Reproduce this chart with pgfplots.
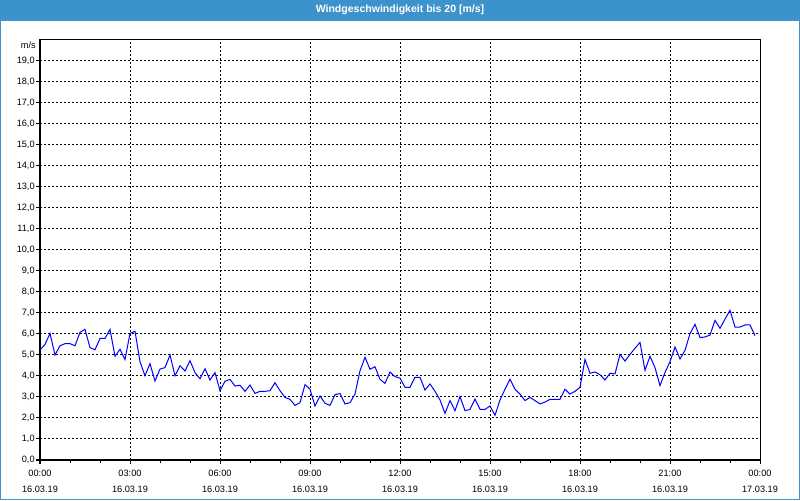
\documentclass[border=0pt]{standalone}
\usepackage{pgfplots}
\pgfplotsset{compat=1.18}
\usepackage{pgfplotstable}
\usepackage{fontspec}
\setmainfont{Liberation Sans}
\definecolor{barblue}{HTML}{3C92CA}
\definecolor{lineblue}{HTML}{0000FF}
\pgfplotstableread{
i v
0 5.24
1 5.50
2 6.03
3 5.00
4 5.44
5 5.54
6 5.54
7 5.44
8 6.08
9 6.22
10 5.35
11 5.25
12 5.79
13 5.79
14 6.22
15 4.94
16 5.27
17 4.78
18 6.03
19 6.13
20 4.68
21 4.01
22 4.59
23 3.76
24 4.33
25 4.40
26 5.00
27 4.01
28 4.49
29 4.24
30 4.73
31 4.16
32 3.87
33 4.35
34 3.81
35 4.16
36 3.30
37 3.75
38 3.84
39 3.52
40 3.56
41 3.27
42 3.57
43 3.17
44 3.27
45 3.27
46 3.30
47 3.68
48 3.30
49 2.98
50 2.89
51 2.60
52 2.73
53 3.59
54 3.37
55 2.57
56 3.05
57 2.70
58 2.60
59 3.11
60 3.17
61 2.67
62 2.73
63 3.14
64 4.25
65 4.89
66 4.32
67 4.44
68 3.84
69 3.65
70 4.19
71 3.97
72 3.90
73 3.46
74 3.46
75 3.94
76 3.94
77 3.33
78 3.62
79 3.27
80 2.86
81 2.22
82 2.83
83 2.35
84 3.02
85 2.35
86 2.41
87 2.90
88 2.41
89 2.41
90 2.57
91 2.13
92 2.86
93 3.37
94 3.84
95 3.37
96 3.14
97 2.83
98 2.98
99 2.83
100 2.67
101 2.76
102 2.89
103 2.89
104 2.89
105 3.37
106 3.14
107 3.27
108 3.46
109 4.79
110 4.13
111 4.19
112 4.06
113 3.81
114 4.13
115 4.10
116 5.03
117 4.71
118 5.03
119 5.32
120 5.60
121 4.27
122 4.94
123 4.40
124 3.54
125 4.17
126 4.68
127 5.38
128 4.81
129 5.22
130 6.02
131 6.46
132 5.83
133 5.86
134 5.95
135 6.65
136 6.27
137 6.71
138 7.13
139 6.33
140 6.33
141 6.43
142 6.43
143 5.92
}\wind

\begin{document}
\begin{tikzpicture}
\useasboundingbox (0,0) rectangle (600pt,375pt);
\fill[white] (0,0) rectangle (600pt,375pt);
\fill[barblue] (0,359.25pt) rectangle (600pt,375pt);
\draw[barblue, line width=0.75pt] (0.375pt,0.375pt) rectangle (599.625pt,374.625pt);
\node[white, font=\bfseries\fontsize{7.9}{9}\selectfont] at (300pt,367.5pt) {Windgeschwindigkeit bis 20 [m/s]};
\node[anchor=east, inner sep=0pt, font=\fontsize{6.9}{9}\selectfont] at (27pt,341.25pt) {m/s};
\begin{axis}[
  at={(30pt,30pt)}, anchor=south west,
  scale only axis, width=540pt, height=315pt,
  xmin=0, xmax=144, ymin=0, ymax=20,
  xtick={0,18,...,144},
  minor x tick num=2,
  ytick={0,1,...,19},
  xticklabels={{00:00\\16.03.19},{03:00\\16.03.19},{06:00\\16.03.19},{09:00\\16.03.19},{12:00\\16.03.19},{15:00\\16.03.19},{18:00\\16.03.19},{21:00\\16.03.19},{00:00\\17.03.19}},
  xticklabel style={align=center, anchor=north, inner sep=0pt, yshift=-4pt},
  yticklabel style={anchor=east, inner sep=0pt, xshift=-0.8pt,
    /pgf/number format/.cd, fixed, fixed zerofill, precision=1, use comma, assume math mode=true},
  ticklabel style={font=\fontsize{6.9}{12}\selectfont, text=black},
  tick align=outside,
  major tick length=3pt, minor tick length=2pt,
  tick style={black, line width=0.75pt},
  xtick pos=bottom, ytick pos=left,
  axis line style={black, line width=0.75pt},
  grid=major,
  major grid style={black, line width=0.75pt, dash pattern=on 1.5pt off 1.5pt},
  minor grid style={draw=none},
  clip=true,
]
\addplot[lineblue, line width=0.75pt, mark=none] table[x=i, y=v] {\wind};
\end{axis}
\end{tikzpicture}
\end{document}
